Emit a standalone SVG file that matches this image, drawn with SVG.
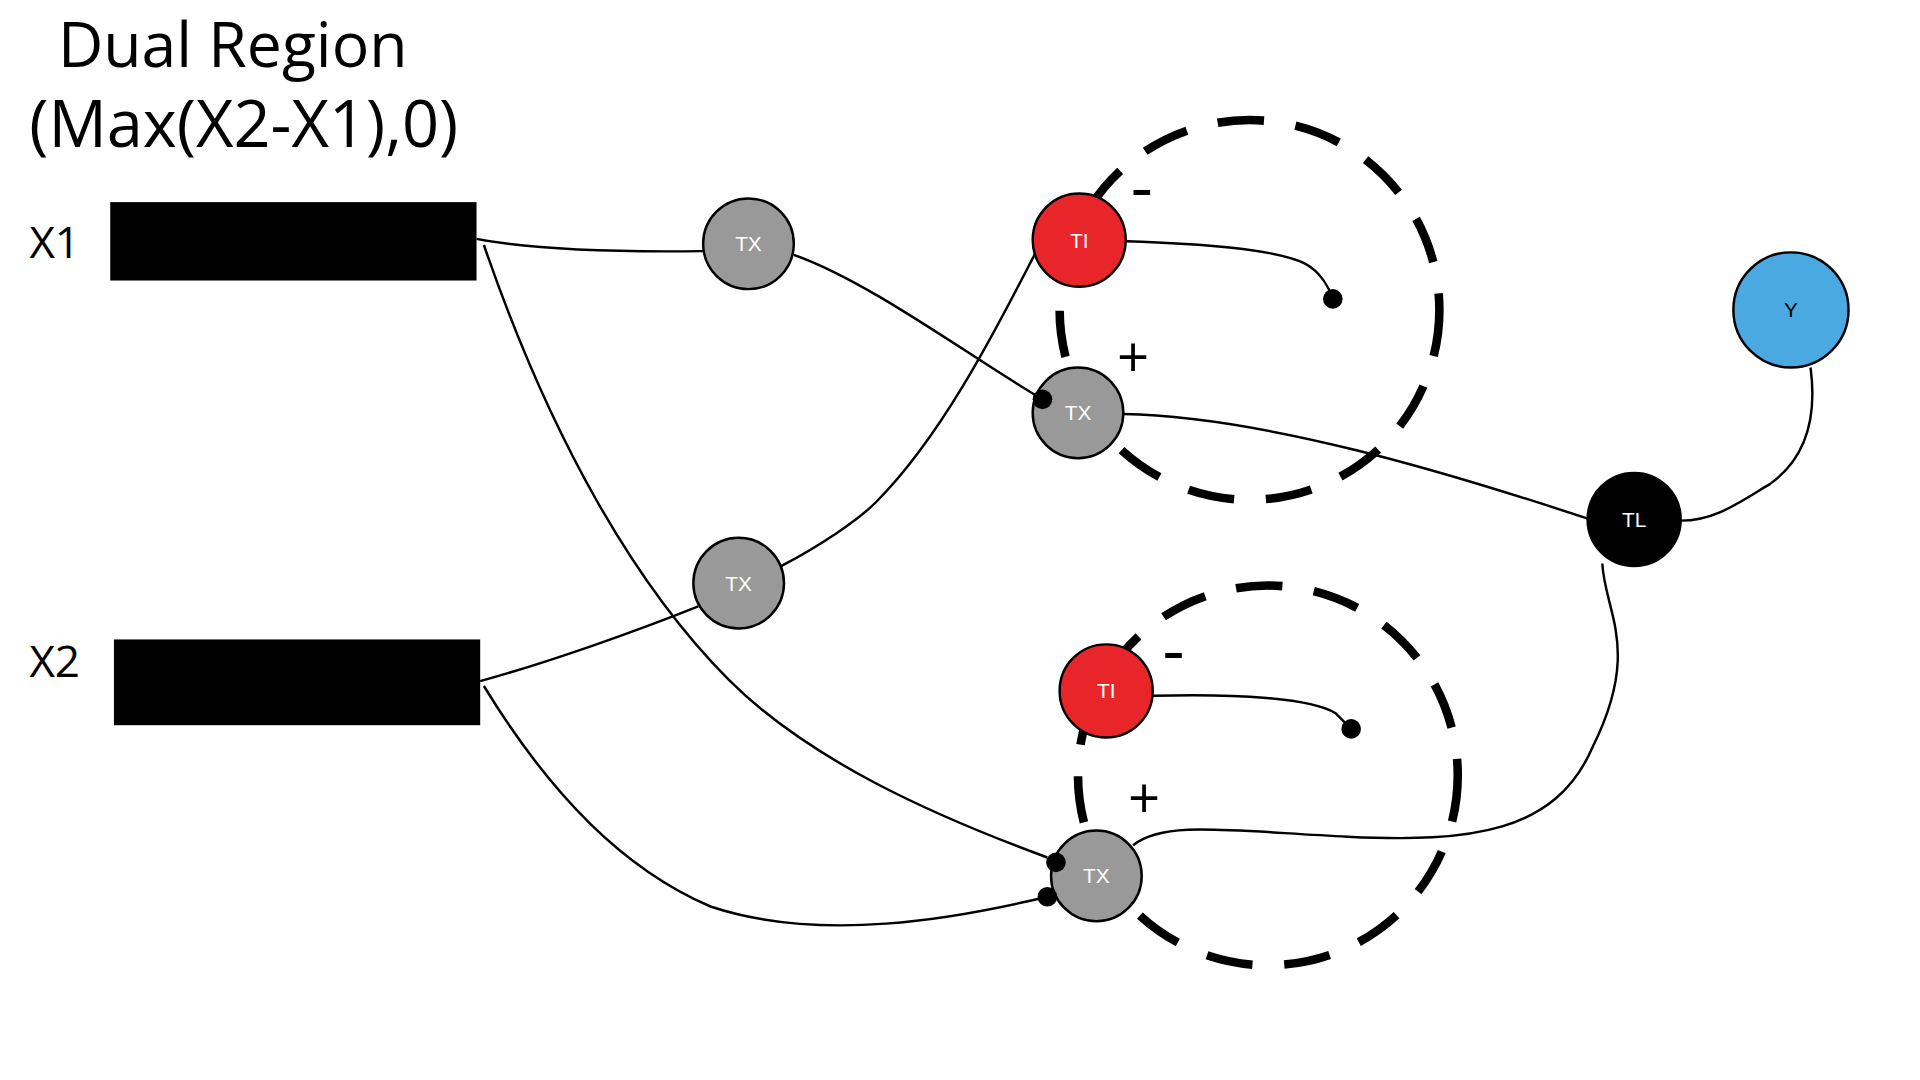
<svg xmlns="http://www.w3.org/2000/svg" width="1920" height="1080" viewBox="0 0 1920 1080">
<style>
.t{font-family:"Open Sans","Liberation Sans",sans-serif;fill:#000}
.n{stroke:#000;stroke-width:2}
.nl{font-family:"Liberation Sans",sans-serif;font-size:17px;fill:#fff;text-anchor:middle;dominant-baseline:central}
.c{fill:none;stroke:#000;stroke-width:2}
.d{fill:none;stroke:#000;stroke-width:7;stroke-dasharray:38 26}
</style>
<rect width="1920" height="1080" fill="#fff"/>
<g transform="scale(1.225)">
<g id="title"><text class="t" x="190" y="55" font-size="51" text-anchor="middle">Dual Region</text>
<text class="t" x="199" y="120" font-size="53" text-anchor="middle">(Max(X2-X1),0)</text></g>
<g id="x1"><text class="t" x="24" y="211" font-size="36">X1</text><rect x="90" y="165" width="299" height="64" fill="#000"/></g>
<g id="x2"><text class="t" x="24" y="553" font-size="36">X2</text><rect x="93" y="522" width="299" height="70" fill="#000"/></g>
<g id="loops"><ellipse class="d" cx="1020" cy="253" rx="155" ry="155"/><ellipse class="d" cx="1035" cy="633" rx="155" ry="155"/></g>
<g id="connectors">
<path class="c" d="M389,195 C430,203 500,206 574,205"/>
<path class="c" d="M648,208 C710,230 790,290 851,326"/>
<path class="c" d="M395,200 C450,360 520,480 595,555 C660,620 760,665 855,700"/>
<path class="c" d="M392,556 C450,540 520,515 570,495"/>
<path class="c" d="M638,462 C670,445 700,425 715,410 C770,355 815,265 845,207"/>
<path class="c" d="M395,560 C450,650 510,710 580,740 C670,770 780,750 855,732"/>
<path class="c" d="M919,197 C980,199 1040,203 1065,215 C1078,222 1085,235 1088,244"/>
<path class="c" d="M917,338 C1030,340 1180,385 1298,424"/>
<path class="c" d="M941,568 C1010,566 1070,570 1090,582 L1103,595"/>
<path class="c" d="M925,690 C950,670 1000,678 1100,683 C1200,688 1270,680 1300,610 C1340,530 1310,500 1308,460"/>
<path class="c" d="M1372,425 C1400,425 1420,410 1445,395 C1480,370 1482,330 1478,300"/>
</g>
<g id="tx1"><circle class="n" cx="611" cy="199" r="37" fill="#999"/><text class="nl" x="611" y="199">TX</text></g>
<g id="tx2"><circle class="n" cx="603" cy="476" r="37" fill="#999"/><text class="nl" x="603" y="476">TX</text></g>
<g id="ti1"><circle class="n" cx="881" cy="196" r="38" fill="#e8262a"/><text class="nl" x="881" y="196">TI</text></g>
<g id="tx3"><circle class="n" cx="880" cy="337" r="37" fill="#999"/><text class="nl" x="880" y="337">TX</text></g>
<g id="ti2"><circle class="n" cx="903" cy="564" r="38" fill="#e8262a"/><text class="nl" x="903" y="564">TI</text></g>
<g id="tx4"><circle class="n" cx="895" cy="715" r="37" fill="#999"/><text class="nl" x="895" y="715">TX</text></g>
<g id="tl"><circle class="n" cx="1334" cy="424" r="38" fill="#000"/><text class="nl" x="1334" y="424">TL</text></g>
<g id="y"><circle class="n" cx="1462" cy="253" r="47" fill="#4aa9e0" stroke-width="1.5"/><text class="nl" x="1462" y="253" style="fill:#000">Y</text></g>
<g id="dots" fill="#000"><circle cx="1088" cy="244" r="8"/><circle cx="851" cy="326" r="8"/><circle cx="1103" cy="595" r="8"/><circle cx="862" cy="704" r="8"/><circle cx="855" cy="732" r="8"/></g>
<g id="signs" class="t" font-size="46" text-anchor="middle"><text x="932" y="172" font-size="56">-</text><text x="925" y="308">+</text><text x="958" y="550" font-size="56">-</text><text x="934" y="668">+</text></g>
</g>
</svg>
